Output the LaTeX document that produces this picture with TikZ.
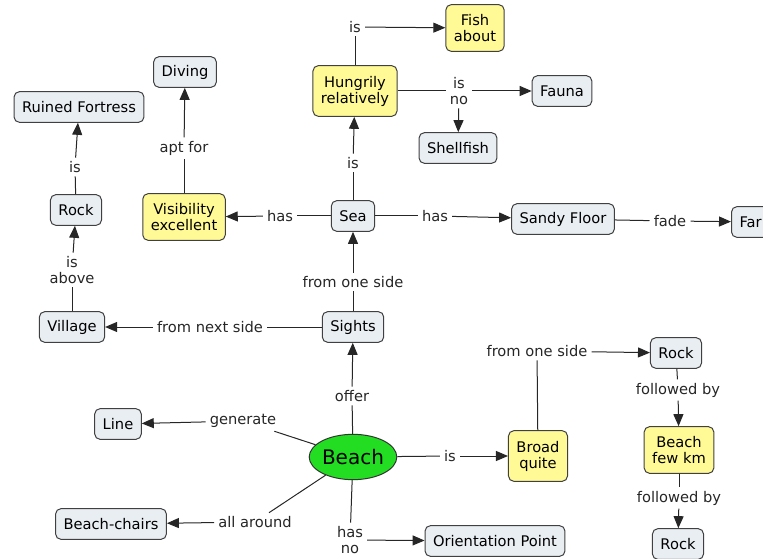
\documentclass[tikz,border=0pt]{standalone}
\usepackage{fontspec}
\setmainfont{DejaVu Sans}
\usetikzlibrary{arrows.meta,shapes.geometric}
\definecolor{cfill}{HTML}{E9EEF2}
\definecolor{pfill}{HTML}{FFFA96}
\definecolor{bfill}{HTML}{22DD22}

\begin{document}
\begin{tikzpicture}[x=0.75pt,y=-0.75pt,
  concept/.style={draw=black!75,fill=cfill,rounded corners=4pt,line width=0.75pt,
    inner xsep=6pt,minimum height=23pt,font=\fontsize{11}{13}\selectfont},
  prop/.style={concept,fill=pfill,minimum height=35pt,align=center,font=\fontsize{11}{12}\selectfont},
  lbl/.style={inner xsep=3pt,inner ysep=2.5pt,align=center,text=black!85,font=\fontsize{11}{12}\selectfont},
  link/.style={line width=0.75pt,black!85,-{Triangle[length=9pt,width=7.5pt]}},
  seg/.style={line width=0.75pt,black!85}]
\useasboundingbox (0,0) rectangle (763,559);

\node[prop] (fish) at (475,28) {Fish\\about};
\node[prop,minimum height=38pt] (hung) at (355,91) {Hungrily\\relatively};
\node[concept] (diving) at (185,72) {Diving};
\node[concept] (fort) at (79,107) {Ruined Fortress};
\node[concept] (fauna) at (562,91) {Fauna};
\node[concept] (shell) at (458,148) {Shellfish};
\node[concept] (rockl) at (76,210) {Rock};
\node[prop] (vis) at (184,217) {Visibility\\excellent};
\node[concept] (sea) at (353,216) {Sea};
\node[concept] (sandy) at (563,219) {Sandy Floor};
\node[concept,anchor=west,text width=40pt] (far) at (731,222) {Far};
\node[concept] (village) at (72,327) {Village};
\node[concept] (sights) at (353,327) {Sights};
\node[concept] (rockr) at (676,353) {Rock};
\node[concept] (line) at (118,424) {Line};
\node[ellipse,draw=black!80,fill=bfill,line width=0.75pt,minimum width=65pt,minimum height=34pt,
  inner sep=0pt,font=\fontsize{15}{17}\selectfont] (beach) at (353,457) {Beach};
\node[prop,minimum height=38pt] (broad) at (538,456) {Broad\\quite};
\node[prop] (few) at (679,450) {Beach\\few km};
\node[concept] (chairs) at (111,524) {Beach-chairs};
\node[concept] (orient) at (495,541) {Orientation Point};
\node[concept] (rockb) at (678,544) {Rock};

% link labels
\node[lbl] (l1) at (355,27) {is};
\node[lbl] (l2) at (459,91) {is\\no};
\node[lbl] (l3) at (353,163) {is};
\node[lbl] (l4) at (184,148) {apt for};
\node[lbl] (l5) at (75,167) {is};
\node[lbl] (l6) at (72,270) {is\\above};
\node[lbl] (l7) at (280,216) {has};
\node[lbl] (l8) at (435,216) {has};
\node[lbl] (l9) at (670,221) {fade};
\node[lbl] (l10) at (353,282) {from one side};
\node[lbl] (l11) at (210,327) {from next side};
\node[lbl] (l12) at (352,396) {offer};
\node[lbl] (l13) at (243,421) {generate};
\node[lbl] (l14) at (450,456) {is};
\node[lbl] (l15) at (537,351) {from one side};
\node[lbl] (l16) at (678,390) {followed by};
\node[lbl] (l17) at (679,498) {followed by};
\node[lbl] (l18) at (255,522) {all around};
\node[lbl] (l19) at (350,540) {has\\no};

\draw[seg] (hung) -- (l1);  \draw[link] (l1) -- (fish);
\draw[seg] (hung) -- (l2);  \draw[link] (l2) -- (fauna);
\draw[link] (l2) -- (shell);
\draw[seg] (sea) -- (l3);   \draw[link] (l3) -- (hung);
\draw[seg] (vis) -- (l4);   \draw[link] (l4) -- (diving);
\draw[seg] (rockl) -- (l5); \draw[link] (l5) -- (fort);
\draw[seg] (village) -- (l6); \draw[link] (l6) -- (rockl);
\draw[seg] (sea) -- (l7);   \draw[link] (l7) -- (vis);
\draw[seg] (sea) -- (l8);   \draw[link] (l8) -- (sandy);
\draw[seg] (sandy) -- (l9); \draw[link] (l9) -- (far);
\draw[seg] (sights) -- (l10); \draw[link] (l10) -- (sea);
\draw[seg] (sights) -- (l11); \draw[link] (l11) -- (village);
\draw[seg] (beach) -- (l12); \draw[link] (l12) -- (sights);
\draw[seg] (beach) -- (l13); \draw[link] (l13) -- (line);
\draw[seg] (beach) -- (l14); \draw[link] (l14) -- (broad);
\draw[seg] (broad) -- (l15); \draw[link] (l15) -- (rockr);
\draw[seg] (rockr) -- (l16); \draw[link] (l16) -- (few);
\draw[seg] (few) -- (l17);  \draw[link] (l17) -- (rockb);
\draw[seg] (beach) -- (l18); \draw[link] (l18) -- (chairs);
\draw[seg] (beach) -- (l19); \draw[link] (l19) -- (orient);
\end{tikzpicture}
\end{document}
